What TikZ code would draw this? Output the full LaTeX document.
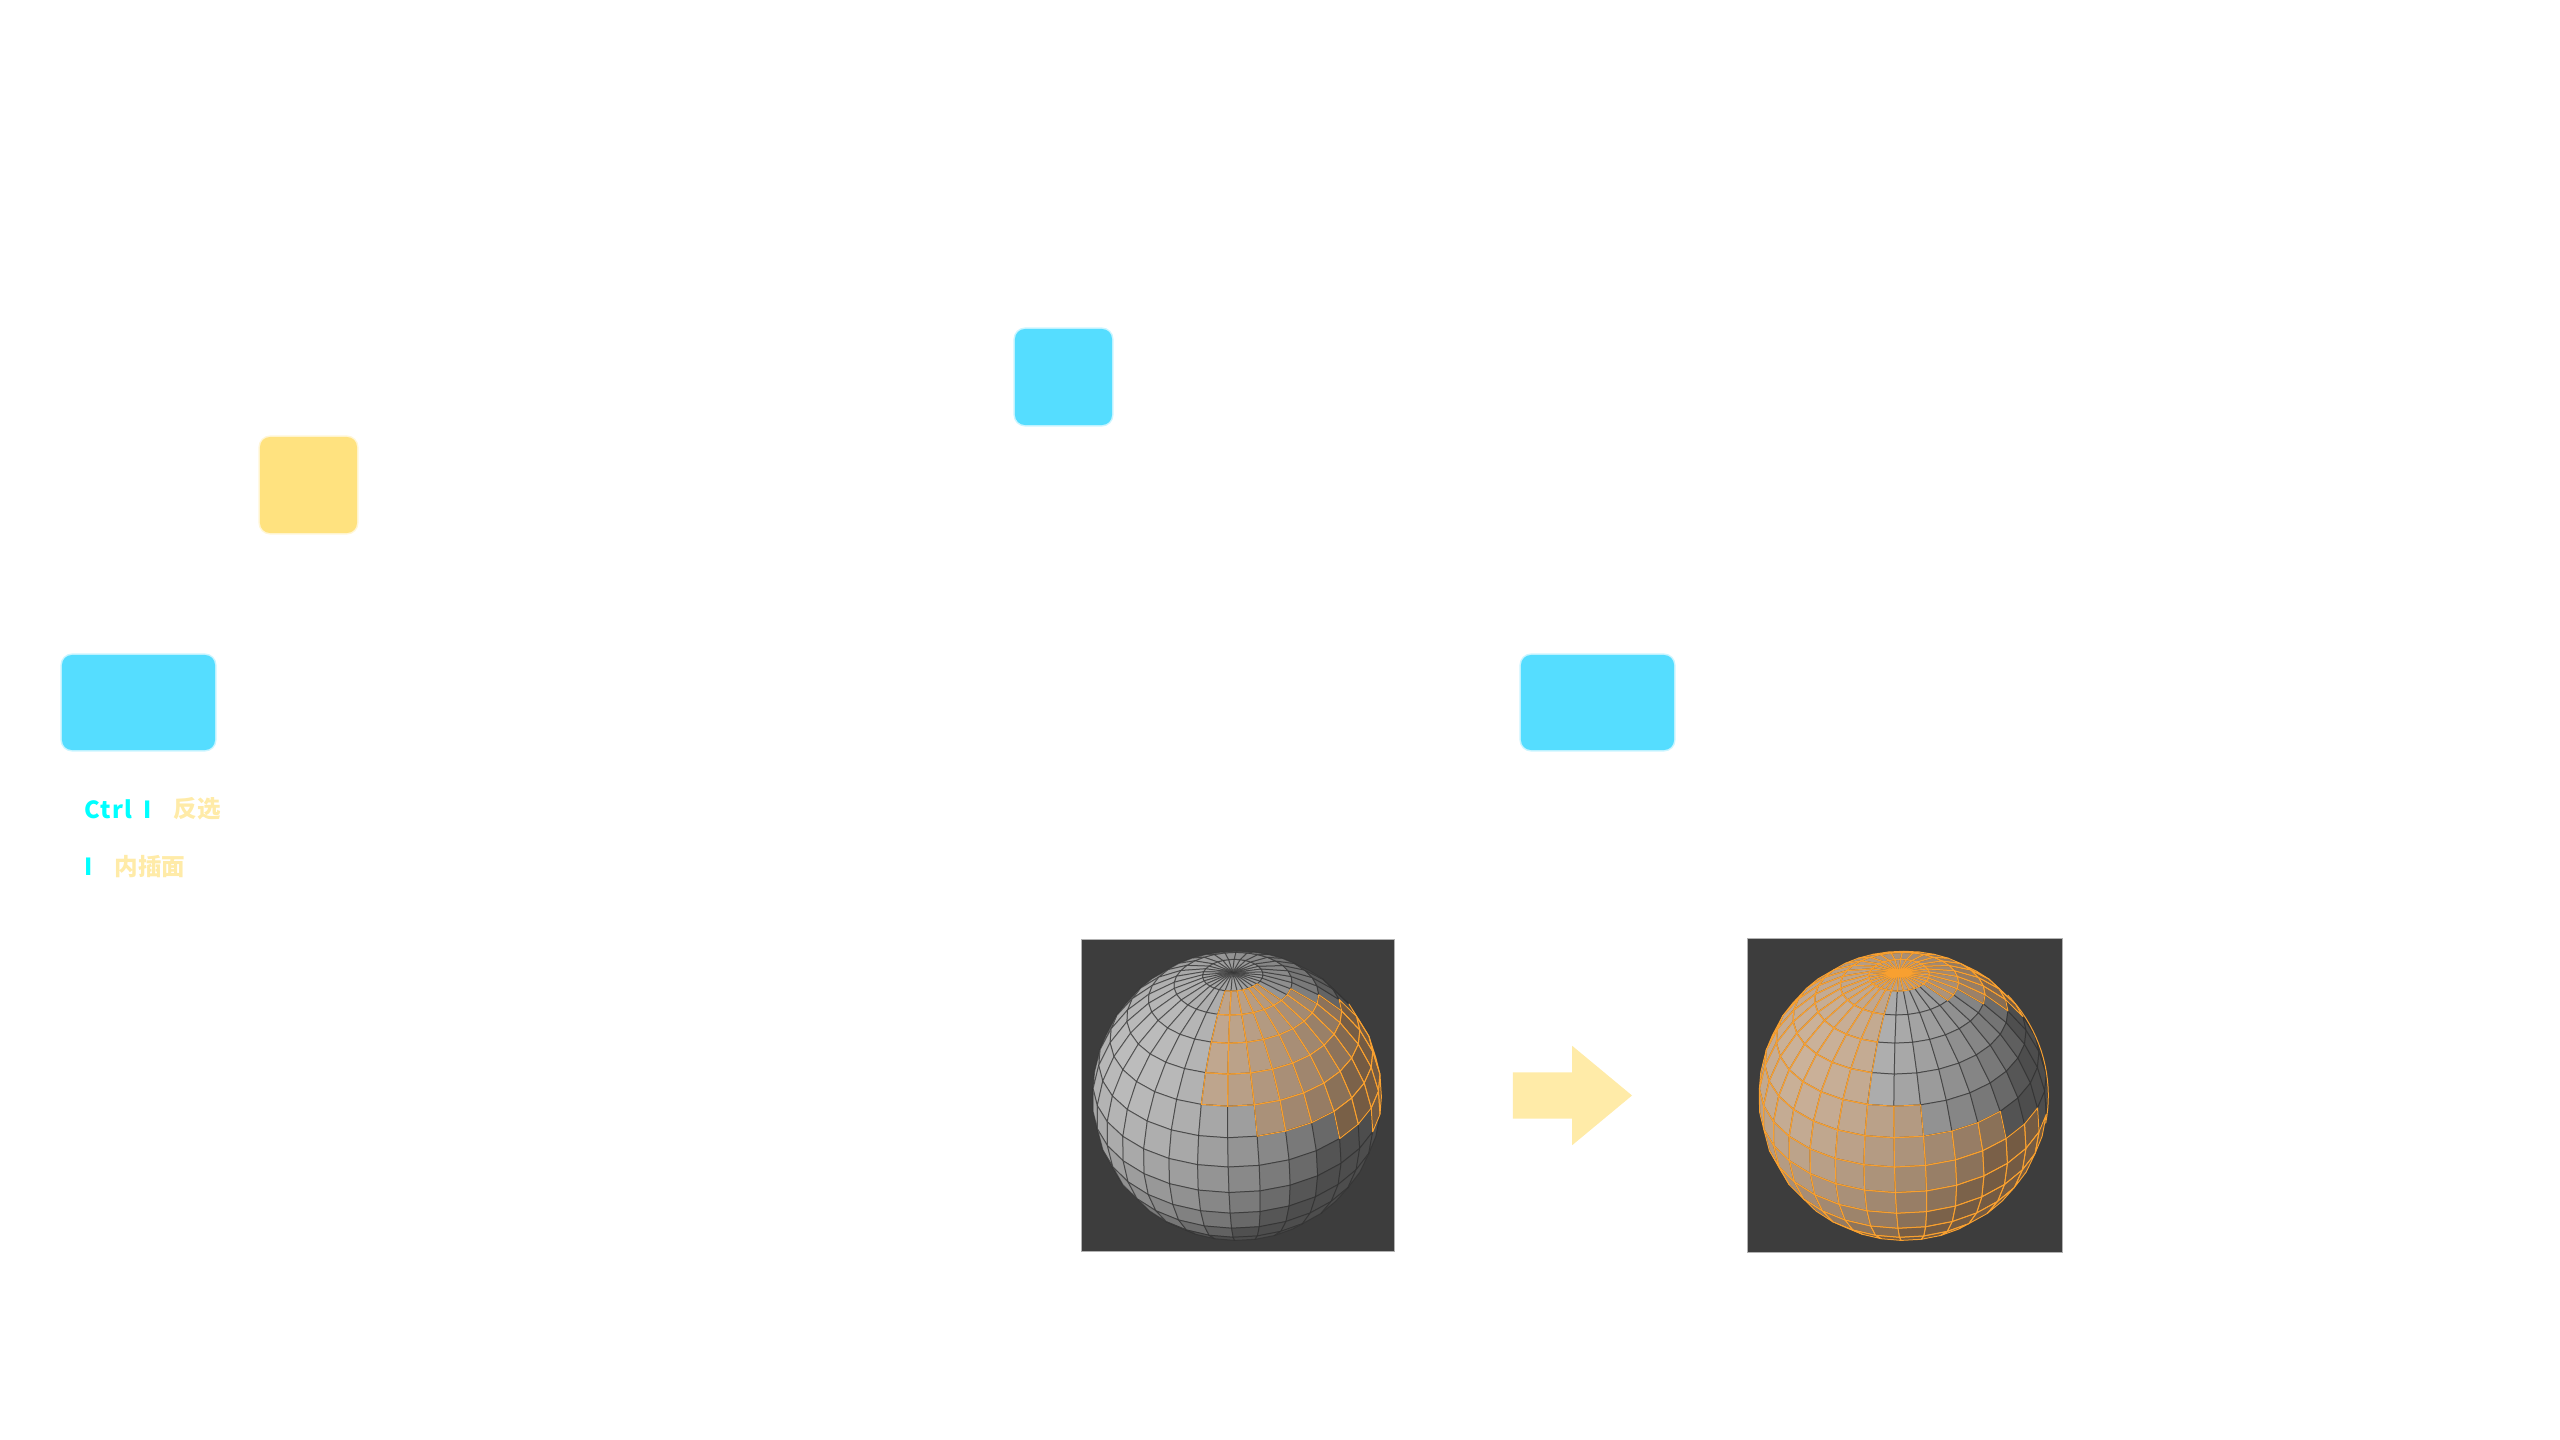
\documentclass[tikz,border=0pt]{standalone}
\usepackage{fontspec}
\setmainfont{Noto Sans CJK SC}
\usetikzlibrary{shapes.arrows}
\definecolor{celeste}{HTML}{55DDFF}
\definecolor{amarillo}{HTML}{FFE27F}
\definecolor{crema}{HTML}{FFEBA8}
\definecolor{cian}{HTML}{00FFFF}
\definecolor{fondo}{HTML}{3D3D3D}
\definecolor{alambre}{HTML}{2E2E2E}
\definecolor{naranja}{HTML}{F8A030}
\def\topes{{99,99,99,99,99,99,99,99,99,99,99,99,99,99,99,1,1,1,1,1,1,2,2,3,4,5,6,99,99,99,99,99}}
\def\bases{{0,0,0,0,0,0,0,0,0,0,0,0,0,0,0,5,5,6,6,6,7,7,8,8,8,8,8,0,0,0,0,0}}
\newcommand{\esfera}[3]{%
  \foreach \capa in {0,1}
  \foreach \i in {-16,...,15}
  \foreach \j in {0,...,15} {
    \pgfmathsetmacro\cc{\j*11.25}
    \pgfmathsetmacro\ll{\i*11.25-4.1}
    \pgfmathsetmacro\nz{nZ(\cc+5.625,\ll+5.625)}
    \pgfmathtruncatemacro\vis{\nz>0.125}
    \pgfmathtruncatemacro\sel{abs(#3-and(\j>=\topes[\i+16],\j<\bases[\i+16]))}
    \pgfmathtruncatemacro\hacer{\vis*(\capa==0 || \sel==1)}
    \ifnum\hacer=1
      \coordinate (p1) at ({#1+sX(\cc,\ll)},{#2-sY(\cc,\ll)});
      \coordinate (p2) at ({#1+sX(\cc,\ll+11.25)},{#2-sY(\cc,\ll+11.25)});
      \coordinate (p3) at ({#1+sX(\cc+11.25,\ll+11.25)},{#2-sY(\cc+11.25,\ll+11.25)});
      \coordinate (p4) at ({#1+sX(\cc+11.25,\ll)},{#2-sY(\cc+11.25,\ll)});
      \ifnum\capa=0
        \pgfmathsetmacro\nn{max(0.001,-0.62*nX(\cc+5.625,\ll+5.625)+0.30*nY(\cc+5.625,\ll+5.625)+0.72*\nz)}
        \pgfmathsetmacro\gg{0.30+0.44*pow(\nn,0.75)}
        \pgfmathsetmacro\rr{\gg+\sel*0.22*(1-\gg)}
        \pgfmathsetmacro\vv{\gg+\sel*0.22*(0.55-\gg)}
        \pgfmathsetmacro\aa{\gg+\sel*0.22*(0.12-\gg)}
        \definecolor{cara}{rgb}{\rr,\vv,\aa}
        \fill[cara] (p1) -- (p2) -- (p3) -- (p4) -- cycle;
        \draw[malla] (p1) -- (p2) -- (p3) -- (p4) -- cycle;
      \else
        \draw[mallasel] (p1) -- (p2) -- (p3) -- (p4) -- cycle;
      \fi
    \fi
  }%
}
\begin{document}
\begin{tikzpicture}[
    x=0.01cm, y=-0.01cm,
    caja/.style={rounded corners=0.1cm, inner sep=0pt, line width=0.03cm, draw opacity=0.3},
    tecla/.style={font=\fontsize{6.7}{8}\selectfont\bfseries, text=cian, anchor=west, inner sep=0pt},
    nota/.style={font=\fontsize{6.7}{8}\selectfont\bfseries, text=crema, anchor=west, inner sep=0pt},
    marco/.style={fill=fondo, draw=gray!60, line width=0.01cm, inner sep=0pt},
    malla/.style={draw=alambre, line width=0.01cm, draw opacity=0.6, line join=round},
    mallasel/.style={draw=naranja, line width=0.01cm, line join=round},
    declare function={
      nX(\c,\l)=sin(\c)*sin(\l);
      nY(\c,\l)=cos(\c)*cos(37.4)-sin(\c)*cos(\l)*sin(37.4);
      nZ(\c,\l)=cos(\c)*sin(37.4)+sin(\c)*cos(\l)*cos(37.4);
      sS(\c,\l)=1148/(8-nZ(\c,\l));
      sX(\c,\l)=sS(\c,\l)*(nX(\c,\l)-0.0356*nY(\c,\l));
      sY(\c,\l)=sS(\c,\l)*(nY(\c,\l)+0.0356*nX(\c,\l));
    }
  ]
  \useasboundingbox (0,0) rectangle (2560,1440);

  % --- cajas ---
  \node[caja, fill=celeste, draw=celeste, minimum width=1.53cm, minimum height=0.95cm] (cajaIzq) at (138.5,702.5) {};
  \node[caja, fill=amarillo, draw=amarillo, minimum width=0.97cm, minimum height=0.96cm] (cajaAma) at (308.5,485) {};
  \node[caja, fill=celeste, draw=celeste, minimum width=0.97cm, minimum height=0.96cm] (cajaSup) at (1063.5,377) {};
  \node[caja, fill=celeste, draw=celeste, minimum width=1.53cm, minimum height=0.95cm] (cajaDer) at (1597.5,702.5) {};

  % --- teclas ---
  \node[tecla] (ctrl) at (84,809) {\addfontfeature{LetterSpace=5}Ctrl\hspace{0.045cm} I};
  \node[nota] (fanxuan) at (173,809) {反选};
  \node[tecla] (letra) at (84,867) {I};
  \node[nota] (neicha) at (114,867) {内插面};

  % --- esferas ---
  \node[marco, minimum width=3.12cm, minimum height=3.11cm] (marcoA) at (1238,1095.5) {};
  \esfera{1237}{1095.7}{0}
  \node[marco, minimum width=3.14cm, minimum height=3.13cm] (marcoB) at (1905,1095.5) {};
  \esfera{1903.3}{1095.7}{1}
  \draw[mallasel] plot[domain=-11:44, samples=20] ({1903.3+145*cos(\x)},{1095.7-145*sin(\x)});

  % --- flecha ---
  \node[single arrow, fill=crema, inner sep=0pt, text height=0.45cm, text depth=0pt, text width=0pt, minimum width=0.98cm, minimum height=1.19cm, single arrow head extend=0.265cm, single arrow tip angle=79.4] (flecha) at (1558.5,1095.5) {};
\end{tikzpicture}
\end{document}
